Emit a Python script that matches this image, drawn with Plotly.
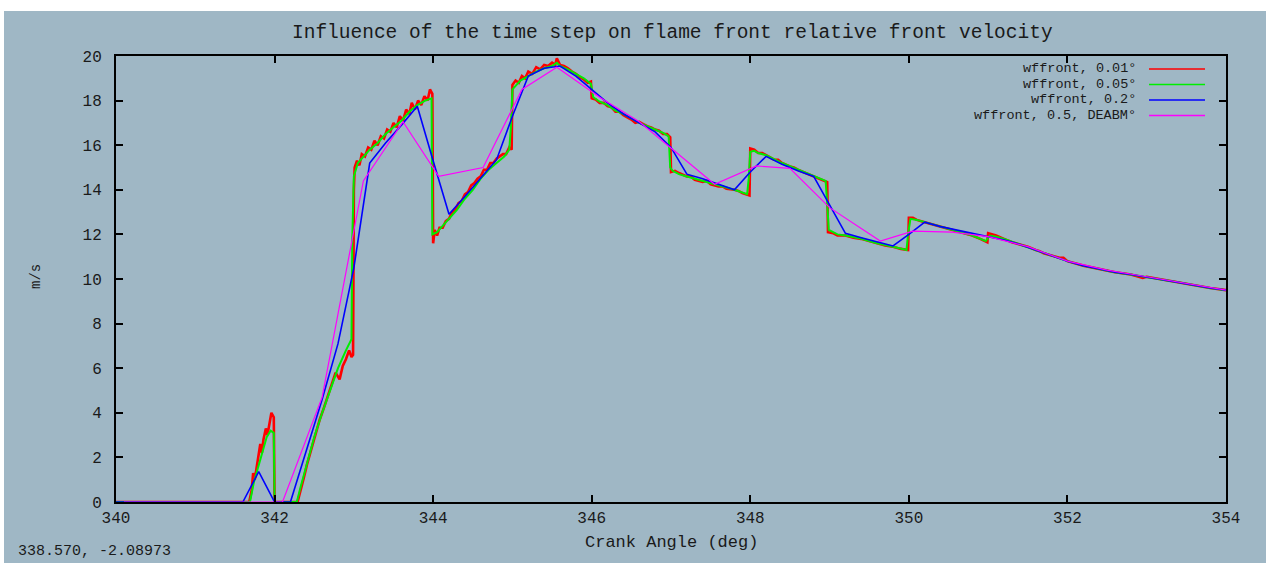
import plotly.graph_objects as go

# ---------------- data ----------------
x_tick_vals = [340, 342, 344, 346, 348, 350, 352, 354]
x_tick_text = ["340", "342", "344", "346", "348", "350", "352", "354"]
y_tick_vals = [0, 2, 4, 6, 8, 10, 12, 14, 16, 18, 20]
y_tick_text = ["0", "2", "4", "6", "8", "10", "12", "14", "16", "18", "20"]

series_names = ["wffront, 0.01°", "wffront, 0.05°", "wffront, 0.2°", "wffront, 0.5, DEABM°"]

red_angle = [340.00, 341.68, 341.71, 341.73, 341.75, 341.77, 341.80, 341.82, 341.84, 341.86, 341.89, 341.91,
             341.93, 341.96, 341.99, 342.00, 342.29, 342.33, 342.37, 342.41, 342.45, 342.49, 342.53, 342.57,
             342.62, 342.67, 342.72, 342.77, 342.82, 342.86, 342.90, 342.94, 342.97, 342.99, 343.00, 343.01,
             343.04, 343.07, 343.10, 343.14, 343.18, 343.22, 343.26, 343.30, 343.34, 343.38, 343.42, 343.46,
             343.50, 343.54, 343.58, 343.62, 343.66, 343.70, 343.73, 343.77, 343.81, 343.85, 343.89, 343.93,
             343.96, 343.99, 344.00, 344.02, 344.05, 344.08, 344.12, 344.16, 344.20, 344.24, 344.28, 344.32,
             344.36, 344.40, 344.44, 344.48, 344.52, 344.56, 344.60, 344.64, 344.68, 344.72, 344.76, 344.80,
             344.84, 344.88, 344.92, 344.96, 344.99, 345.00, 345.04, 345.08, 345.12, 345.16, 345.20, 345.25,
             345.30, 345.35, 345.40, 345.45, 345.50, 345.54, 345.56, 345.60, 345.65, 345.70, 345.75, 345.80,
             345.85, 345.90, 345.95, 345.99, 346.00, 346.05, 346.10, 346.15, 346.20, 346.25, 346.30, 346.35,
             346.40, 346.45, 346.50, 346.55, 346.60, 346.65, 346.70, 346.75, 346.80, 346.85, 346.90, 346.95,
             346.99, 347.00, 347.05, 347.10, 347.20, 347.25, 347.30, 347.40, 347.45, 347.50, 347.60, 347.65,
             347.70, 347.80, 347.85, 347.90, 347.99, 348.00, 348.05, 348.10, 348.15, 348.20, 348.30, 348.35,
             348.40, 348.50, 348.55, 348.60, 348.70, 348.80, 348.85, 348.90, 348.97, 348.98, 349.05, 349.10,
             349.20, 349.30, 349.40, 349.50, 349.60, 349.70, 349.80, 349.90, 349.99, 350.00, 350.05, 350.10,
             350.20, 350.30, 350.40, 350.50, 350.60, 350.70, 350.80, 350.90, 350.99, 351.00, 351.05, 351.10,
             351.20, 351.30, 351.40, 351.50, 351.60, 351.65, 351.70, 351.80, 351.90, 351.95, 352.00, 352.20,
             352.40, 352.60, 352.80, 352.95, 353.00, 353.20, 353.40, 353.60, 353.80, 354.00]
red_speed = [0, 0, 0.5, 1.3, 1.0, 1.5, 2.2, 2.6, 2.2, 2.8, 3.3, 3.0,
             3.4, 4.0, 3.8, 0, 0, 0.5, 1.1, 1.7, 2.2, 2.8, 3.2, 3.7,
             4.2, 4.7, 5.3, 5.8, 5.5, 6.1, 6.4, 6.8, 6.5, 6.6, 14.0, 15.0,
             15.3, 15.1, 15.6, 15.5, 15.9, 15.8, 16.2, 16.0, 16.4, 16.3, 16.7, 16.6,
             17.0, 16.8, 17.3, 17.1, 17.6, 17.4, 17.9, 17.6, 18.0, 17.8, 18.2, 18.0,
             18.5, 18.3, 11.6, 12.2, 11.95, 12.3, 12.3, 12.6, 12.7, 13.0, 13.1, 13.4,
             13.5, 13.8, 13.9, 14.2, 14.3, 14.5, 14.6, 14.9, 14.9, 15.2, 15.2, 15.4,
             15.5, 15.6, 15.6, 15.9, 15.8, 18.7, 18.9, 18.8, 19.1, 19.0, 19.3, 19.2,
             19.5, 19.4, 19.6, 19.55, 19.7, 19.6, 19.9, 19.6, 19.55, 19.45, 19.3, 19.2,
             19.05, 18.95, 18.8, 18.85, 18.1, 18.05, 17.9, 17.9, 17.75, 17.7, 17.5, 17.5,
             17.35, 17.25, 17.15, 17.0, 17.05, 16.95, 16.85, 16.8, 16.7, 16.65, 16.5, 16.5,
             16.35, 14.8, 14.85, 14.75, 14.6, 14.6, 14.45, 14.35, 14.4, 14.25, 14.15, 14.15,
             14.05, 14.0, 13.95, 13.85, 13.75, 15.85, 15.8, 15.65, 15.65, 15.55, 15.35, 15.35,
             15.2, 15.05, 15.0, 14.9, 14.75, 14.6, 14.55, 14.45, 14.35, 12.1, 12.05, 11.95,
             11.95, 11.85, 11.8, 11.7, 11.6, 11.5, 11.45, 11.35, 11.3, 12.75, 12.75, 12.65,
             12.55, 12.45, 12.35, 12.25, 12.15, 12.05, 11.95, 11.8, 11.65, 12.05, 12.0, 11.95,
             11.8, 11.65, 11.55, 11.45, 11.3, 11.25, 11.15, 11.05, 10.95, 10.95, 10.8, 10.6,
             10.45, 10.3, 10.2, 10.05, 10.1, 9.97, 9.85, 9.72, 9.6, 9.5]

green_angle = [340.00, 341.69, 341.74, 341.78, 341.82, 341.86, 341.90, 341.95, 341.99, 342.00, 342.28, 342.33,
               342.40, 342.50, 342.60, 342.70, 342.80, 342.90, 342.97, 342.98, 343.00, 343.05, 343.10, 343.20,
               343.30, 343.40, 343.50, 343.60, 343.70, 343.80, 343.90, 343.98, 343.99, 344.05, 344.10, 344.20,
               344.30, 344.40, 344.50, 344.60, 344.70, 344.80, 344.90, 344.96, 344.98, 345.00, 345.10, 345.20,
               345.30, 345.40, 345.50, 345.56, 345.60, 345.70, 345.80, 345.90, 345.99, 346.02, 346.10, 346.20,
               346.30, 346.40, 346.50, 346.60, 346.70, 346.80, 346.90, 346.97, 346.99, 347.02, 347.10, 347.20,
               347.40, 347.60, 347.80, 347.96, 347.98, 348.00, 348.05, 348.10, 348.20, 348.40, 348.60, 348.80,
               348.95, 348.97, 348.99, 349.10, 349.20, 349.40, 349.60, 349.80, 349.97, 349.99, 350.02, 350.10,
               350.20, 350.40, 350.60, 350.80, 350.97, 351.02, 351.10, 351.20, 351.40, 351.60, 351.80, 352.00,
               352.20, 352.40, 352.60, 352.80, 353.00, 353.20, 353.40, 353.60, 353.80, 354.00]
green_speed = [0, 0, 0.9, 1.4, 2.0, 2.5, 2.9, 3.2, 3.1, 0, 0, 0.7,
               1.6, 2.9, 4.0, 5.0, 6.0, 6.8, 7.3, 11.8, 14.6, 15.2, 15.4, 15.8,
               16.1, 16.5, 16.8, 17.1, 17.5, 17.8, 18.0, 18.1, 12.0, 12.1, 12.3, 12.7,
               13.1, 13.6, 14.0, 14.5, 14.9, 15.2, 15.5, 15.8, 16.8, 18.5, 18.9, 19.1,
               19.3, 19.45, 19.55, 19.7, 19.55, 19.4, 19.2, 19.0, 18.75, 18.15, 17.95, 17.8,
               17.55, 17.4, 17.2, 17.0, 16.85, 16.7, 16.55, 16.4, 15.0, 14.85, 14.7, 14.6,
               14.4, 14.2, 14.0, 13.8, 14.5, 15.7, 15.75, 15.65, 15.55, 15.2, 14.9, 14.6,
               14.4, 13.4, 12.2, 12.0, 11.95, 11.8, 11.6, 11.45, 11.3, 12.0, 12.7, 12.65,
               12.55, 12.35, 12.15, 11.95, 11.7, 11.95, 11.9, 11.8, 11.55, 11.3, 11.05, 10.8,
               10.6, 10.45, 10.3, 10.2, 10.1, 9.97, 9.85, 9.72, 9.6, 9.5]

blue_angle = [340.0, 341.4, 341.6, 341.8, 342.0, 342.2, 342.4, 342.6, 342.8, 343.0, 343.2, 343.4,
              343.6, 343.8, 344.0, 344.2, 344.4, 344.6, 344.8, 345.0, 345.2, 345.4, 345.6, 345.8,
              346.0, 346.2, 346.4, 346.6, 346.8, 347.0, 347.2, 347.4, 347.6, 347.8, 348.0, 348.2,
              348.4, 348.6, 348.8, 349.0, 349.2, 349.4, 349.6, 349.8, 350.0, 350.2, 350.4, 350.6,
              350.8, 351.0, 351.2, 351.4, 351.6, 351.8, 352.0, 352.2, 352.4, 352.6, 352.8, 353.0,
              353.2, 353.4, 353.6, 353.8, 354.0]
blue_speed = [0, 0, 0, 1.36, 0, 0, 2.3, 4.6, 7.1, 10.5, 15.2, 16.1,
              16.9, 17.75, 15.3, 12.9, 13.7, 14.5, 15.35, 17.3, 19.1, 19.45, 19.55, 19.1,
              18.5, 17.9, 17.4, 17.0, 16.6, 15.9, 14.7, 14.5, 14.25, 14.0, 14.8, 15.5,
              15.15, 14.85, 14.6, 13.3, 12.05, 11.85, 11.65, 11.48, 12.0, 12.55, 12.35, 12.2,
              12.05, 11.9, 11.75, 11.55, 11.3, 11.05, 10.8, 10.6, 10.45, 10.3, 10.2, 10.1,
              9.97, 9.85, 9.72, 9.6, 9.5]

magenta_angle = [340.1, 340.6, 341.1, 341.6, 342.1, 342.6, 343.12, 343.62, 344.07, 344.63, 345.12, 345.56,
                 346.1, 346.6, 347.55, 348.08, 348.5, 349.0, 349.64, 350.05, 350.55, 351.0, 351.5, 352.0,
                 352.5, 353.0, 353.5, 354.0]
magenta_speed = [0, 0, 0, 0, 0, 4.7, 14.4, 17.05, 14.6, 15.0, 18.5, 19.5,
                 18.15, 17.05, 14.25, 15.07, 14.96, 13.2, 11.7, 12.15, 12.1, 11.9, 11.45, 10.8,
                 10.4, 10.1, 9.8, 9.5]

# ---------------- layout geometry ----------------
W, H = 1266, 563
L, R, T, B = 116, 40, 56, 61
PW, PH = W - L - R, H - T - B
BG = "#9fb7c5"
TXT = "#1a1a1a"
FONT = "Liberation Mono"


def px(xp):
    return (xp - L) / PW


def py(yp):
    return (H - B - yp) / PH


colors = ["#ff0000", "#00ee00", "#0000ff", "#ff00ff"]
widths = [2.6, 2.0, 1.6, 1.2]
data_sets = [(red_angle, red_speed), (green_angle, green_speed),
             (blue_angle, blue_speed), (magenta_angle, magenta_speed)]

fig = go.Figure()
for (xs, ys), c, w, n in zip(data_sets, colors, widths, series_names):
    fig.add_trace(go.Scatter(x=xs, y=ys, mode="lines", name=n,
                             line=dict(color=c, width=w), showlegend=False,
                             hoverinfo="skip"))

annotations = []
shapes = []

# title
annotations.append(dict(text="Influence of the time step on flame front relative front velocity",
                        x=px(672), y=py(33), xref="paper", yref="paper", showarrow=False,
                        xanchor="center", yanchor="middle",
                        font=dict(family=FONT, size=19.5, color=TXT)))
# x axis label
annotations.append(dict(text="Crank Angle (deg)", x=px(671), y=py(542), xref="paper", yref="paper",
                        showarrow=False, xanchor="center", yanchor="middle",
                        font=dict(family=FONT, size=17, color=TXT)))
# y axis label
annotations.append(dict(text="m/s", x=px(36), y=py(277), xref="paper", yref="paper",
                        showarrow=False, xanchor="center", yanchor="middle", textangle=-90,
                        font=dict(family=FONT, size=14, color=TXT)))
# mouse coordinate readout at the bottom-left
annotations.append(dict(text="338.570, -2.08973", x=px(16), y=py(562), xref="paper", yref="paper",
                        showarrow=False, xanchor="left", yanchor="bottom",
                        font=dict(family=FONT, size=15, color=TXT)))

# legend (custom, gnuplot style)
legend_rows = [69, 84.5, 100, 115.5]
for n, c, yy in zip(series_names, colors, legend_rows):
    annotations.append(dict(text=n, x=px(1138), y=py(yy), xref="paper", yref="paper",
                            showarrow=False, xanchor="right", yanchor="middle",
                            font=dict(family=FONT, size=13.5, color=TXT)))
    shapes.append(dict(type="line", xref="paper", yref="paper",
                       x0=px(1149), x1=px(1205), y0=py(yy), y1=py(yy),
                       line=dict(color=c, width=1.5)))

# white strips (top & left of the window)
shapes.append(dict(type="rect", xref="paper", yref="paper", x0=px(0), x1=px(W), y0=py(11), y1=py(0),
                   fillcolor="white", line=dict(width=0), layer="above"))
shapes.append(dict(type="rect", xref="paper", yref="paper", x0=px(0), x1=px(4), y0=py(H), y1=py(0),
                   fillcolor="white", line=dict(width=0), layer="above"))

fig.update_layout(
    width=W, height=H,
    margin=dict(l=L, r=R, t=T, b=B, pad=0),
    paper_bgcolor=BG, plot_bgcolor=BG,
    annotations=annotations, shapes=shapes,
    showlegend=False,
    font=dict(family=FONT, size=16, color=TXT),
)
fig.update_xaxes(range=[340, 354], tickvals=x_tick_vals, ticktext=x_tick_text,
                 showgrid=False, zeroline=False, showline=True, linecolor="black", linewidth=2,
                 mirror="ticks", ticks="inside", ticklen=7, tickwidth=2, tickcolor="black",
                 ticklabelstandoff=0, tickfont=dict(family=FONT, size=16, color=TXT))
fig.update_yaxes(range=[0, 20], tickvals=y_tick_vals, ticktext=y_tick_text,
                 showgrid=False, zeroline=False, showline=True, linecolor="black", linewidth=2,
                 mirror="ticks", ticks="inside", ticklen=7, tickwidth=2, tickcolor="black",
                 ticklabelstandoff=9, tickfont=dict(family=FONT, size=16, color=TXT))

fig.write_html("out.html")
